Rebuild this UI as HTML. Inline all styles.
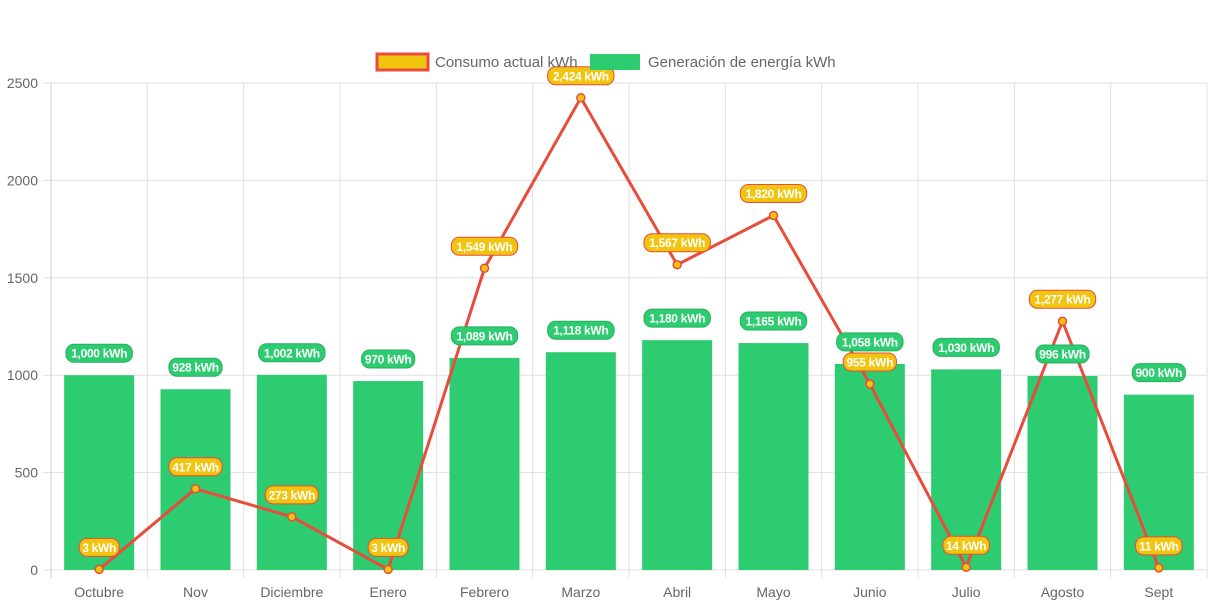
<!DOCTYPE html>
<html><head><meta charset="utf-8"><style>
body{margin:0;background:#fff;}
svg{display:block;font-family:"Liberation Sans",Arial,sans-serif;}
</style></head><body>
<svg id="c" width="1213" height="606"></svg>
<script>
const categories=["Octubre","Nov","Diciembre","Enero","Febrero","Marzo","Abril","Mayo","Junio","Julio","Agosto","Sept"];
const consumo=[3,417,273,3,1549,2424,1567,1820,955,14,1277,11];
const generacion=[1000,928,1002,970,1089,1118,1180,1165,1058,1030,996,900];
const yTicks=[0,500,1000,1500,2000,2500];
const NS="http://www.w3.org/2000/svg";
const svg=document.getElementById('c');
const L=51,R=1207,T=83,B=570,yMax=2500;
const step=(R-L)/categories.length;
const xs=i=>L+step*(i+0.5);
const ys=v=>B-(v/yMax)*(B-T);
function mk(tag,a,parent){const e=document.createElementNS(NS,tag);for(const k in a)e.setAttribute(k,a[k]);(parent||svg).appendChild(e);return e;}
const grid=mk('g',{});


yTicks.forEach(v=>{
  mk('line',{x1:L-8,x2:R,y1:ys(v),y2:ys(v),stroke:'#e0e0e0','stroke-width':1},grid);
  const t=mk('text',{x:L-13,y:ys(v)+5,'text-anchor':'end','font-size':14,fill:'#666'});
  
  
  t.textContent=v;
});
for(let i=0;i<=categories.length;i++){
  const x=L+step*i;
  mk('line',{x1:x,x2:x,y1:T,y2:B+8,stroke:'#e0e0e0','stroke-width':1},grid);
}
mk('line',{x1:L,x2:L,y1:T,y2:B+8,stroke:'#ccc'},grid);
categories.forEach((c,i)=>{
  const t=mk('text',{x:xs(i),y:597,'text-anchor':'middle','font-size':14,fill:'#666'});
  
  
  t.textContent=c;
});
const bw=70;
generacion.forEach((v,i)=>{
  const r=mk('rect',{x:xs(i)-bw/2,y:ys(v),width:bw,height:B-ys(v),fill:'#2ecc71'});
  
  
});
const pts=consumo.map((v,i)=>xs(i)+','+ys(v)).join(' ');
const pl=mk('polyline',{points:pts,fill:'none',stroke:'#e74c3c','stroke-width':3,'stroke-linejoin':'round'});


consumo.forEach((v,i)=>{
  const p=mk('circle',{cx:xs(i),cy:ys(v),r:4,fill:'#f1c40f',stroke:'#e74c3c','stroke-width':1.5});
  
  
});
function label(x,y,txt,bg,border){
  const g=mk('g',{});
  
  
  const w=txt.length*6.6+7;
  mk('rect',{x:x-w/2,y:y-9,width:w,height:18,rx:8,fill:bg,stroke:border,'stroke-width':1},g);
  const t=mk('text',{x:x,y:y+4.5,'text-anchor':'middle','font-size':12,'font-weight':'bold',fill:'#fff','letter-spacing':'-0.3'},g);
  t.textContent=txt;
}
generacion.forEach((v,i)=>label(xs(i),ys(v)-22,v.toLocaleString('en-US')+' kWh','#2ecc71','#27ae60'));
consumo.forEach((v,i)=>label(xs(i),ys(v)-22,v.toLocaleString('en-US')+' kWh','#f1c40f','#e74c3c'));
const lg=mk('g',{});


const l1=mk('rect',{x:377,y:54,width:51,height:16,fill:'#f1c40f',stroke:'#e74c3c','stroke-width':3},lg);


mk('text',{x:435,y:67,'font-size':15,fill:'#666'},lg).textContent='Consumo actual kWh';
const l2=mk('rect',{x:590,y:54,width:50,height:16,fill:'#2ecc71'},lg);


mk('text',{x:648,y:67,'font-size':15,fill:'#666'},lg).textContent='Generación de energía kWh';
</script>
</body></html>
